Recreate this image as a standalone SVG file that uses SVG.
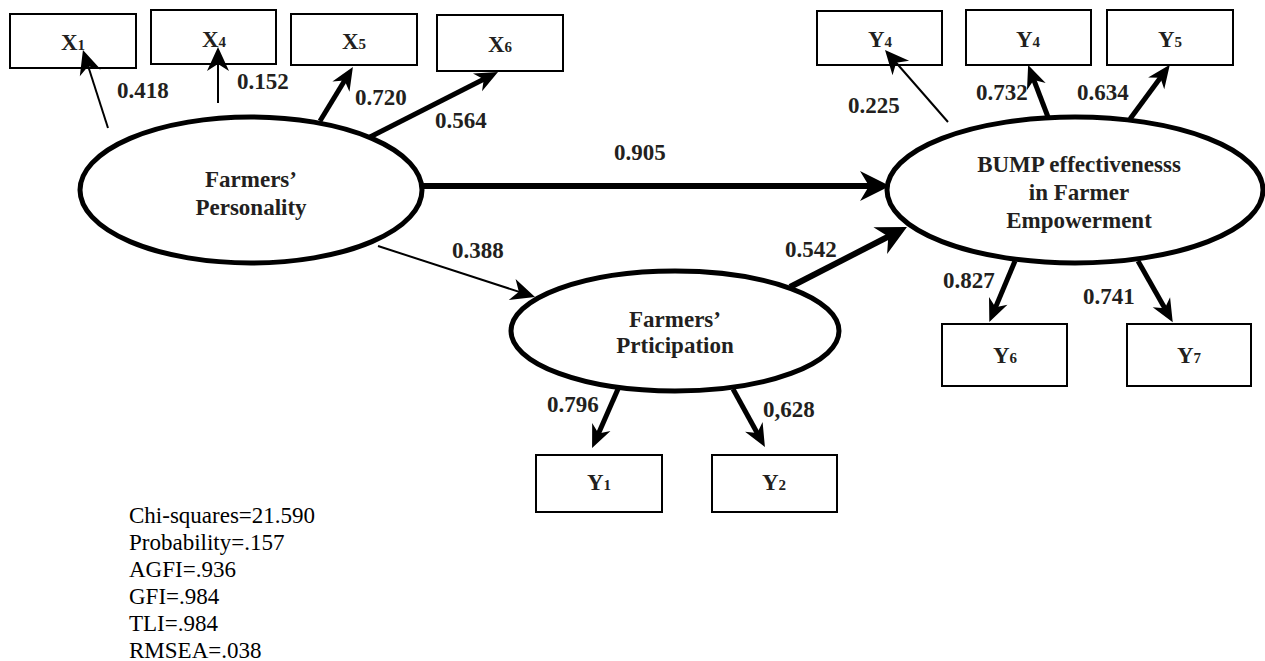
<svg xmlns="http://www.w3.org/2000/svg" width="1265" height="661" viewBox="0 0 1265 661">
<defs>
<style>
.box{fill:#fff;stroke:#000;stroke-width:2}
.ell{fill:#fff;stroke:#000;stroke-width:5}
.t{font-family:"Liberation Serif","Times New Roman",serif;font-weight:bold;font-size:23px;fill:#231f20;text-anchor:middle}
.sub{font-size:15px}
.lbl{font-family:"Liberation Serif","Times New Roman",serif;font-weight:bold;font-size:23px;fill:#231f20}
.stat{font-family:"Liberation Serif","Times New Roman",serif;font-size:23px;fill:#000}
.thin{stroke:#000;stroke-width:2;fill:none}
.thick{stroke:#000;stroke-width:5;fill:none}
.heavy{stroke:#000;stroke-width:6;fill:none}
</style>
<marker id="ahs" markerUnits="userSpaceOnUse" markerWidth="50" markerHeight="50" refX="25" refY="25" orient="auto">
<path d="M35,25 L11,14 L18,25 L11,36 Z" fill="#000"/>
</marker>
<marker id="ah" markerUnits="userSpaceOnUse" markerWidth="50" markerHeight="50" refX="25" refY="25" orient="auto">
<path d="M35,25 L12,15 L19,25 L12,35 Z" fill="#000"/>
</marker>
<marker id="ahb" markerUnits="userSpaceOnUse" markerWidth="60" markerHeight="60" refX="30" refY="30" orient="auto">
<path d="M42,30 L12,15 L21,30 L12,45 Z" fill="#000"/>
</marker>
</defs>
<rect width="1265" height="661" fill="#fff"/>

<g id="X1"><rect class="box" x="10" y="14" width="126" height="54"/><text class="t" x="73" y="50">X<tspan class="sub">1</tspan></text></g>
<g id="X4"><rect class="box" x="151" y="10" width="125" height="54"/><text class="t" x="214" y="47">X<tspan class="sub">4</tspan></text></g>
<g id="X5"><rect class="box" x="291" y="14" width="126" height="51"/><text class="t" x="354" y="49">X<tspan class="sub">5</tspan></text></g>
<g id="X6"><rect class="box" x="437" y="15" width="126" height="56"/><text class="t" x="500" y="52">X<tspan class="sub">6</tspan></text></g>

<g id="Y4a"><rect class="box" x="817" y="11" width="125" height="54"/><text class="t" x="880" y="47">Y<tspan class="sub">4</tspan></text></g>
<g id="Y4b"><rect class="box" x="966" y="10" width="125" height="55"/><text class="t" x="1028" y="47">Y<tspan class="sub">4</tspan></text></g>
<g id="Y5"><rect class="box" x="1107" y="10" width="126" height="55"/><text class="t" x="1170" y="47">Y<tspan class="sub">5</tspan></text></g>

<g id="Y1"><rect class="box" x="536" y="455" width="126" height="57"/><text class="t" x="599" y="490">Y<tspan class="sub">1</tspan></text></g>
<g id="Y2"><rect class="box" x="712" y="455" width="125" height="57"/><text class="t" x="774" y="490">Y<tspan class="sub">2</tspan></text></g>

<g id="Y6"><rect class="box" x="942" y="324" width="125" height="62"/><text class="t" x="1005" y="363">Y<tspan class="sub">6</tspan></text></g>
<g id="Y7"><rect class="box" x="1127" y="324" width="124" height="62"/><text class="t" x="1189" y="363">Y<tspan class="sub">7</tspan></text></g>

<g id="personality"><ellipse class="ell" cx="251" cy="190" rx="171" ry="73"/>
<text class="t" x="251" y="187">Farmers’</text><text class="t" x="251" y="215">Personality</text></g>

<g id="participation"><ellipse class="ell" cx="675" cy="331" rx="164" ry="60"/>
<text class="t" x="675" y="327">Farmers’</text><text class="t" x="675" y="353">Prticipation</text></g>

<g id="bump"><ellipse class="ell" cx="1075" cy="190" rx="188" ry="73"/>
<text class="t" x="1079" y="172">BUMP effectivenesss</text><text class="t" x="1079" y="200">in Farmer</text><text class="t" x="1079" y="228">Empowerment</text></g>

<g id="connectors">
<line class="thin" x1="108" y1="128" x2="86" y2="59.5" marker-end="url(#ahs)"/>
<line class="thin" x1="218" y1="103" x2="218" y2="57" marker-end="url(#ahs)"/>
<line class="thick" x1="320" y1="121" x2="347.7" y2="75.5" marker-end="url(#ah)"/>
<line class="thick" x1="370" y1="137" x2="489.1" y2="76.5" marker-end="url(#ah)"/>
<line class="heavy" x1="421" y1="186" x2="878" y2="186" marker-end="url(#ahb)"/>
<line class="thin" x1="378" y1="246" x2="525.5" y2="293.9" marker-end="url(#ahs)"/>
<line class="heavy" x1="790" y1="287" x2="896.3" y2="232.5" marker-end="url(#ahb)"/>
<line class="thick" x1="618" y1="389" x2="596.1" y2="438.9" marker-end="url(#ah)"/>
<line class="thick" x1="733" y1="389" x2="760.1" y2="438.3" marker-end="url(#ah)"/>
<line class="thin" x1="948" y1="122" x2="891.6" y2="57.5" marker-end="url(#ahs)"/>
<line class="thick" x1="1048" y1="117" x2="1031.7" y2="74.3" marker-end="url(#ah)"/>
<line class="thick" x1="1130" y1="119" x2="1163.9" y2="72.9" marker-end="url(#ah)"/>
<line class="thick" x1="1015" y1="261" x2="993.2" y2="312.9" marker-end="url(#ah)"/>
<line class="thick" x1="1138" y1="261" x2="1167.8" y2="313.5" marker-end="url(#ah)"/>
</g>

<g id="labels">
<text class="lbl" x="117" y="98">0.418</text>
<text class="lbl" x="237" y="89">0.152</text>
<text class="lbl" x="355" y="105">0.720</text>
<text class="lbl" x="435" y="128">0.564</text>
<text class="lbl" x="614" y="160">0.905</text>
<text class="lbl" x="452" y="258">0.388</text>
<text class="lbl" x="785" y="257">0.542</text>
<text class="lbl" x="547" y="412">0.796</text>
<text class="lbl" x="763" y="417">0,628</text>
<text class="lbl" x="848" y="113">0.225</text>
<text class="lbl" x="976" y="100">0.732</text>
<text class="lbl" x="1077" y="100">0.634</text>
<text class="lbl" x="943" y="288">0.827</text>
<text class="lbl" x="1083" y="304">0.741</text>
</g>

<g id="fit-stats">
<text class="stat" x="129" y="523">Chi-squares=21.590</text>
<text class="stat" x="129" y="550">Probability=.157</text>
<text class="stat" x="129" y="577">AGFI=.936</text>
<text class="stat" x="129" y="604">GFI=.984</text>
<text class="stat" x="129" y="631">TLI=.984</text>
<text class="stat" x="129" y="658">RMSEA=.038</text>
</g>
</svg>
